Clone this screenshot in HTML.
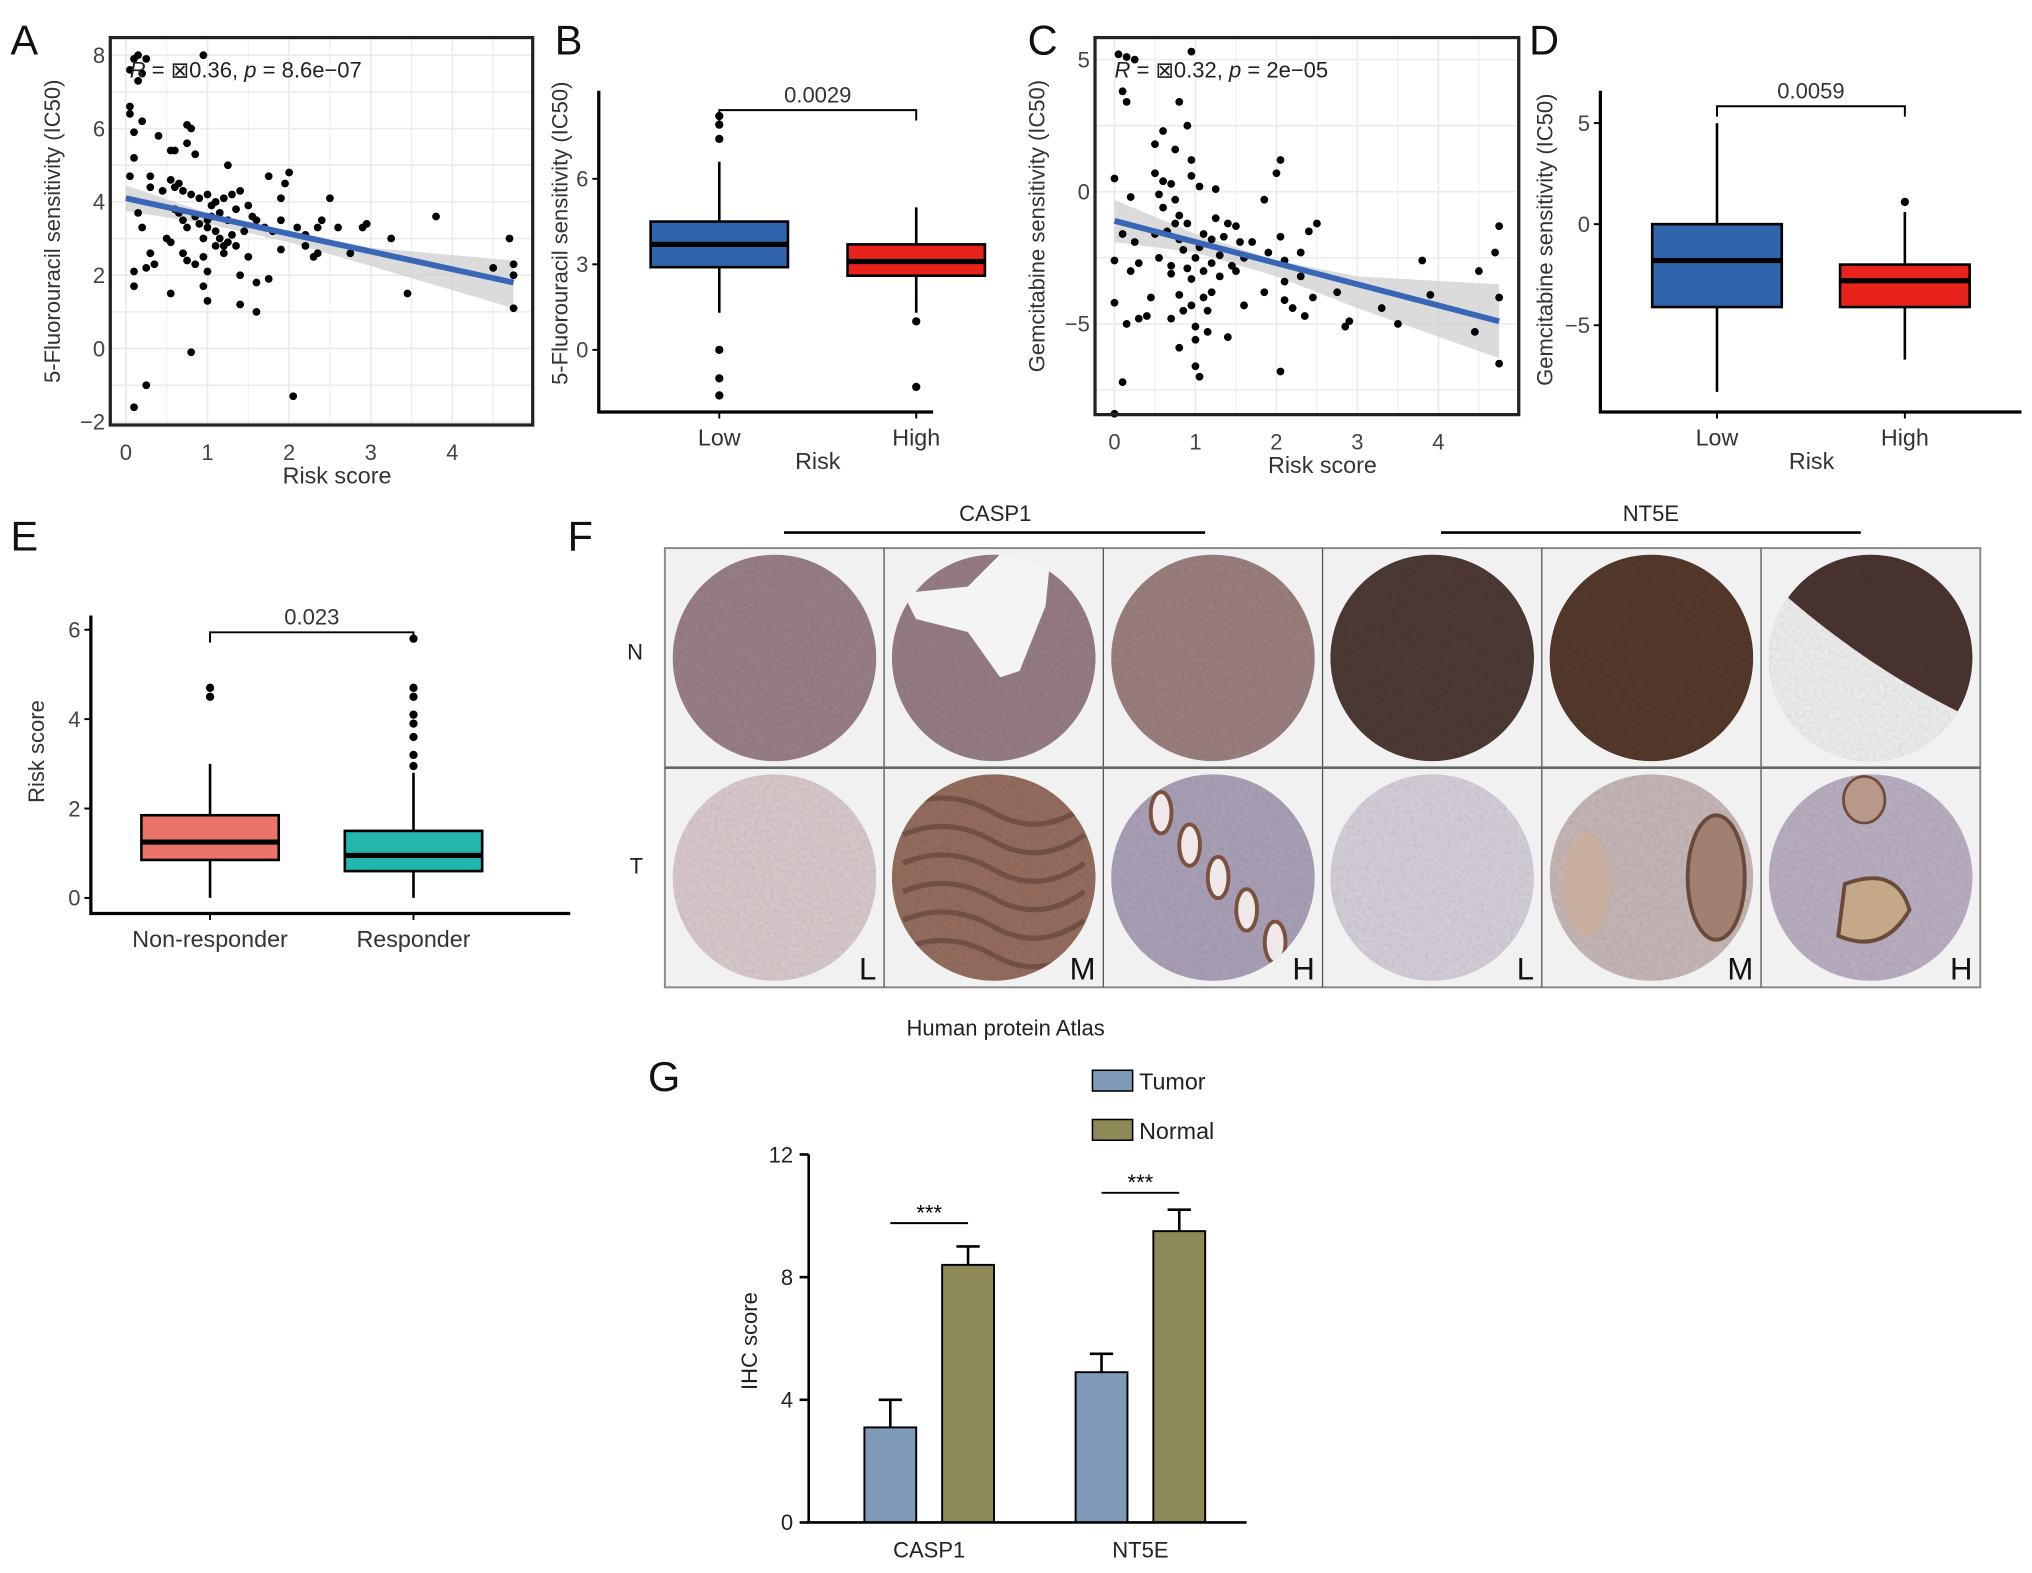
<!DOCTYPE html>
<html><head><meta charset="utf-8">
<style>
html,body{margin:0;padding:0;background:#fff;}
svg{display:block;font-family:"Liberation Sans",Arial,sans-serif;}
</style></head>
<body>
<svg id="fig" width="2032" height="1573" viewBox="0 0 1568 1214" xmlns="http://www.w3.org/2000/svg">
<defs>
<filter id="tex" x="0" y="0" width="1" height="1">
<feTurbulence type="fractalNoise" baseFrequency="0.35" numOctaves="2" seed="3" result="n"/>
<feColorMatrix type="saturate" values="0" in="n" result="g"/>
<feComponentTransfer in="g" result="g2"><feFuncA type="linear" slope="0.35"/></feComponentTransfer>
<feComposite in="g2" in2="SourceGraphic" operator="in" result="m"/>
<feBlend in="SourceGraphic" in2="m" mode="multiply"/>
</filter>
</defs>
<g id="root"></g>
</svg>
<script>
// ---------- DATA ----------
const scatterA = [[0.05,7.6],[0.1,7.9],[0.15,8.0],[0.2,7.5],[0.15,7.3],[0.25,7.9],[0.95,8.0],[0.05,6.6],[0.05,6.4],[0.2,6.2],[0.1,5.9],[0.4,5.8],[0.75,6.1],[0.8,6.0],[0.75,5.6],[0.1,5.2],[0.55,5.4],[0.6,5.4],[0.85,5.3],[1.25,5.0],[0.05,4.7],[0.3,4.7],[0.55,4.6],[0.6,4.4],[0.7,4.3],[0.8,4.2],[0.9,4.1],[1.0,4.2],[1.1,4.0],[1.2,4.1],[1.3,4.2],[1.4,4.3],[1.5,3.9],[1.75,4.7],[2.0,4.8],[1.95,4.5],[1.9,4.1],[2.5,4.1],[3.8,3.6],[0.15,3.7],[0.2,3.3],[0.5,3.0],[0.6,3.8],[0.7,3.5],[0.75,3.3],[0.85,3.6],[0.9,3.4],[1.0,3.3],[1.05,3.6],[1.1,3.2],[1.15,3.0],[1.2,2.8],[1.25,3.5],[1.3,3.1],[1.45,3.2],[1.6,3.5],[1.7,3.3],[1.8,3.2],[1.9,3.5],[2.1,3.3],[2.2,3.1],[2.35,3.3],[2.4,3.5],[2.6,3.3],[2.9,3.3],[2.95,3.4],[3.25,3.0],[0.3,2.6],[0.35,2.3],[0.25,2.2],[0.1,2.1],[0.55,2.9],[0.7,2.6],[0.75,2.4],[0.85,2.3],[0.95,2.5],[1.0,2.1],[1.1,2.8],[1.2,2.6],[1.4,2.0],[1.5,2.5],[1.6,1.8],[1.75,1.9],[1.9,2.7],[2.2,2.8],[2.3,2.5],[2.35,2.6],[2.75,2.6],[0.1,1.7],[0.55,1.5],[0.95,1.7],[1.0,1.3],[1.4,1.2],[1.6,1.0],[3.45,1.5],[4.5,2.2],[4.7,3.0],[4.75,2.3],[4.75,2.0],[4.75,1.1],[0.8,-0.1],[0.25,-1.0],[0.1,-1.6],[2.05,-1.3],[0.3,4.4],[0.65,4.5],[0.45,4.3],[1.05,3.9],[1.35,3.8],[1.15,3.7],[0.95,3.0],[0.65,3.7],[1.55,3.6],[1.25,2.9],[1.35,2.8],[1.0,3.5]];
const fitA = [[0,4.1],[4.75,1.8]];
const bandA = [[0,4.45,3.75],[1,3.7,3.4],[2,3.2,2.9],[3,2.75,2.25],[4.75,2.4,1.1]];
const ticksAx = [0,1,2,3,4];
const ticksAy = [-2,0,2,4,6,8];

const scatterC = [[0.05,5.2],[0.15,5.1],[0.25,5.0],[0.95,5.3],[0.1,3.8],[0.15,3.4],[0.8,3.4],[0.6,2.3],[0.9,2.5],[0.5,1.8],[0.75,1.6],[0.95,1.2],[0.5,0.7],[0.6,0.4],[0.7,0.3],[0.95,0.6],[1.05,0.2],[1.25,0.1],[0.0,0.5],[0.2,-0.2],[0.55,-0.1],[0.75,-0.3],[1.85,-0.3],[2.0,0.7],[2.05,1.2],[0.6,-0.6],[0.8,-0.9],[0.9,-1.2],[1.25,-1.0],[1.4,-1.2],[2.5,-1.2],[0.1,-1.6],[0.25,-1.9],[0.5,-1.6],[0.65,-1.5],[0.8,-1.8],[1.1,-1.6],[1.2,-1.8],[1.35,-1.7],[1.55,-1.9],[1.7,-1.9],[2.05,-1.7],[2.4,-1.5],[0.0,-2.6],[0.3,-2.7],[0.55,-2.5],[0.7,-2.8],[0.9,-2.9],[1.0,-2.5],[1.2,-2.7],[1.3,-2.4],[1.45,-2.8],[1.9,-2.3],[2.1,-2.6],[2.3,-2.3],[0.2,-3.0],[0.7,-3.1],[0.95,-3.3],[1.1,-3.0],[1.3,-3.2],[1.5,-3.0],[2.1,-3.4],[2.3,-3.2],[0.0,-4.2],[0.45,-4.0],[0.8,-3.9],[0.95,-4.3],[1.1,-4.0],[1.2,-3.8],[1.6,-4.3],[1.85,-3.8],[2.1,-4.1],[2.2,-4.4],[2.45,-4.0],[2.75,-3.8],[3.3,-4.4],[3.9,-3.9],[3.8,-2.6],[4.5,-3.0],[4.7,-2.3],[4.75,-1.3],[4.75,-4.0],[0.15,-5.0],[0.3,-4.8],[0.4,-4.7],[0.7,-4.8],[0.85,-4.5],[1.0,-5.1],[1.15,-4.5],[2.35,-4.7],[2.9,-4.9],[2.85,-5.1],[3.5,-5.0],[4.45,-5.3],[0.8,-5.9],[1.0,-5.6],[1.15,-5.3],[1.4,-5.5],[1.0,-6.6],[1.05,-7.0],[2.05,-6.8],[4.75,-6.5],[0.1,-7.2],[0.0,-8.4],[0.75,-1.2],[1.05,-2.1],[0.85,-2.2],[1.5,-1.3],[1.6,-2.5]];
const fitC = [[0,-1.1],[4.75,-4.9]];
const bandC = [[0,-0.3,-1.9],[1,-1.6,-2.3],[2,-2.6,-3.2],[3,-3.2,-4.4],[4.75,-3.5,-6.3]];
const ticksCx = [0,1,2,3,4];
const ticksCy = [-5,0,5];

const boxB = [{lo:1.3,q1:2.9,med:3.7,q3:4.5,hi:6.6,out:[8.2,7.9,7.4,0,-1,-1.6]},{lo:1.3,q1:2.6,med:3.1,q3:3.7,hi:5.0,out:[1.0,-1.3]}];
const catsB = ["Low","High"];
const ticksBy = [0,3,6];
const pB = "0.0029";

const boxD = [{lo:-8.3,q1:-4.1,med:-1.8,q3:0,hi:5.0,out:[]},{lo:-6.7,q1:-4.1,med:-2.8,q3:-2.0,hi:0.6,out:[1.1]}];
const catsD = ["Low","High"];
const ticksDy = [-5,0,5];
const pD = "0.0059";

const boxE = [{lo:0,q1:0.85,med:1.25,q3:1.85,hi:3.0,out:[4.5,4.7]},{lo:0,q1:0.6,med:0.95,q3:1.5,hi:2.8,out:[2.95,3.2,3.6,3.9,4.1,4.5,4.7,5.8]}];
const catsE = ["Non-responder","Responder"];
const ticksEy = [0,2,4,6];
const pE = "0.023";

const catsG = ["CASP1","NT5E"];
const tumorG = [3.1,4.9];
const tumorErrG = [0.9,0.6];
const normalG = [8.4,9.5];
const normalErrG = [0.6,0.7];
const ticksGy = [0,4,8,12];

// ---------- HELPERS ----------
const NS = "http://www.w3.org/2000/svg";
const root = document.getElementById('root');
const defs = document.querySelector('defs');
function el(tag, attrs, parent, text){
  const e = document.createElementNS(NS, tag);
  for (const k in attrs) e.setAttribute(k, attrs[k]);
  if (text !== undefined) e.textContent = text;
  (parent || root).appendChild(e);
  return e;
}
function lin(d0,d1,r0,r1){ return v => r0 + (v-d0)*(r1-r0)/(d1-d0); }

[["A",8,42],["B",428,42],["C",793,42],["D",1180,42],["E",8,425],["F",438,425],["G",500,842]].forEach(([t,x,y])=>{
  const e = el('text',{x:x,y:y,'font-size':32,fill:'#111'},root,t);
  
  
});

// ---------- SCATTER ----------
function scatter(cfg){
  const g = el('g',{});
  
  
  const X = lin(0,1,cfg.x0,cfg.x0+cfg.xs), Y = lin(0,1,cfg.y0,cfg.y0-cfg.ys);
  el('rect',{x:cfg.box[0],y:cfg.box[1],width:cfg.box[2]-cfg.box[0],height:cfg.box[3]-cfg.box[1],fill:'#fff'},g);
  for(let v=cfg.gx[0]; v<=cfg.gx[1]+1e-9; v+=0.5){ const x=X(v); if(x>cfg.box[0]&&x<cfg.box[2]) el('line',{x1:x,x2:x,y1:cfg.box[1],y2:cfg.box[3],stroke:'#ebebeb','stroke-width':v%1===0?1.3:0.7},g); }
  for(let v=cfg.gy[0]; v<=cfg.gy[1]+1e-9; v+=cfg.gstep/2){ const y=Y(v); if(y>cfg.box[1]&&y<cfg.box[3]) el('line',{x1:cfg.box[0],x2:cfg.box[2],y1:y,y2:y,stroke:'#ebebeb','stroke-width':1.2},g); }
  let top = cfg.band.map(b=>X(b[0])+','+Y(b[1])).join(' ');
  let bot = cfg.band.slice().reverse().map(b=>X(b[0])+','+Y(b[2])).join(' ');
  const band = el('polygon',{points:top+' '+bot,fill:'#cfcfcf','fill-opacity':0.75},g);
  
  
  cfg.pts.forEach(p=>{
    const c = el('circle',{cx:X(p[0]),cy:Y(p[1]),r:3,fill:'#000'},g);
    
    
  });
  const fl = el('line',{x1:X(cfg.fit[0][0]),y1:Y(cfg.fit[0][1]),x2:X(cfg.fit[1][0]),y2:Y(cfg.fit[1][1]),stroke:'#3a66b8','stroke-width':4.5},g);
  
  
  el('rect',{x:cfg.box[0],y:cfg.box[1],width:cfg.box[2]-cfg.box[0],height:cfg.box[3]-cfg.box[1],fill:'none',stroke:'#222','stroke-width':2.5},g);
  cfg.tx.forEach(v=>{
    const t = el('text',{x:X(v),y:cfg.box[3]+27,'font-size':17,'text-anchor':'middle',fill:'#444'},g,String(v));
    
    
  });
  cfg.ty.forEach(v=>{
    const t = el('text',{x:cfg.box[0]-4,y:Y(v)+6,'font-size':17,'text-anchor':'end',fill:'#444'},g,v<0?'\u2212'+(-v):String(v));
    
    
  });
  const xt = el('text',{x:(cfg.box[0]+cfg.box[2])/2+12,y:cfg.box[3]+45,'font-size':18,'text-anchor':'middle',fill:'#333'},g,'Risk score');
  
  
  const yt = el('text',{x:0,y:0,'font-size':17,'text-anchor':'middle',fill:'#333',transform:`translate(${cfg.ytx},${(cfg.box[1]+cfg.box[3])/2}) rotate(-90)`},g,cfg.ytitle);
  
  
  const st = el('text',{x:cfg.box[0]+15,y:cfg.box[1]+31,'font-size':17,fill:'#222'},g);
  st.innerHTML = '<tspan font-style="italic">R</tspan> = \u22A0'+cfg.r+', <tspan font-style="italic">p</tspan> = '+cfg.p;
  
  
}
scatter({name:'panel-a-scatter',box:[85,29,411,328],x0:97,xs:63,y0:269,ys:28.3,gx:[-0.5,5],gy:[-2,8],gstep:2,
  pts:scatterA,fit:fitA,band:bandA,tx:ticksAx,ty:ticksAy,ytx:46,ytitle:'5-Fluorouracil sensitivity (IC50)',r:'0.36',p:'8.6e\u221207'});
scatter({name:'panel-c-scatter',box:[845,29,1172,320],x0:860,xs:62.5,y0:148,ys:20.4,gx:[-0.5,5],gy:[-10,5],gstep:5,
  pts:scatterC,fit:fitC,band:bandC,tx:ticksCx,ty:ticksCy,ytx:806,ytitle:'Gemcitabine sensitivity (IC50)',r:'0.32',p:'2e\u221205'});

// ---------- BOXPLOTS ----------
function boxplot(cfg){
  const g = el('g',{});
  
  
  const Y = lin(0,1,cfg.y0,cfg.y0-cfg.ys);
  cfg.boxes.forEach((b,i)=>{
    const cx = cfg.cx[i], w = cfg.w;
    const bg = el('g',{},g);
    
    
    el('line',{x1:cx,x2:cx,y1:Y(b.lo),y2:Y(b.hi),stroke:'#000','stroke-width':2},bg);
    el('rect',{x:cx-w/2,y:Y(b.q3),width:w,height:Y(b.q1)-Y(b.q3),fill:cfg.colors[i],stroke:'#000','stroke-width':2},bg);
    el('line',{x1:cx-w/2,x2:cx+w/2,y1:Y(b.med),y2:Y(b.med),stroke:'#000','stroke-width':4},bg);
    b.out.forEach(o=>{ const c=el('circle',{cx:cx,cy:Y(o),r:3.2,fill:'#000'},bg);   });
    const t = el('text',{x:cx,y:cfg.axisY+26,'font-size':18,'text-anchor':'middle',fill:'#333'},g,cfg.cats[i]);
    
    
    el('line',{x1:cx,x2:cx,y1:cfg.axisY,y2:cfg.axisY+5,stroke:'#000','stroke-width':1.5},g);
  });
  const ax = el('path',{d:`M${cfg.axisX},${cfg.axisTop} V${cfg.axisY} H${cfg.axisRight}`,fill:'none',stroke:'#000','stroke-width':2.5},g);
  
  
  cfg.ticks.forEach(v=>{
    el('line',{x1:cfg.axisX-5,x2:cfg.axisX,y1:Y(v),y2:Y(v),stroke:'#000','stroke-width':1.5},g);
    const t = el('text',{x:cfg.axisX-8,y:Y(v)+6,'font-size':17,'text-anchor':'end',fill:'#444'},g,v<0?'\u2212'+(-v):String(v));
    
    
  });
  const br = el('path',{d:`M${cfg.cx[0]},${cfg.brY+8} V${cfg.brY} H${cfg.cx[1]} V${cfg.brY+8}`,fill:'none',stroke:'#000','stroke-width':1.5},g);
  
  
  const pt = el('text',{x:(cfg.cx[0]+cfg.cx[1])/2,y:cfg.brY-6,'font-size':17,'text-anchor':'middle',fill:'#333'},g,cfg.p);
  
  
  if(cfg.xtitle){ const xt=el('text',{x:cfg.xtx,y:cfg.axisY+44,'font-size':18,'text-anchor':'middle',fill:'#333'},g,cfg.xtitle);   }
  const yt = el('text',{x:0,y:0,'font-size':17,'text-anchor':'middle',fill:'#333',transform:`translate(${cfg.ytx},${cfg.yty}) rotate(-90)`},g,cfg.ytitle);
  
  
}
boxplot({name:'panel-b-boxplot',boxes:boxB,cats:catsB,cx:[555,707],w:106,colors:['#2f65ad','#e8231c'],y0:270,ys:22,axisX:462,axisTop:70,axisY:318,axisRight:720,ticks:ticksBy,brY:85,p:pB,xtitle:'Risk',xtx:631,ytx:438,yty:180,ytitle:'5-Fluorouracil sensitivity (IC50)'});
boxplot({name:'panel-d-boxplot',boxes:boxD,cats:catsD,cx:[1325,1470],w:100,colors:['#2f65ad','#e8231c'],y0:173,ys:15.6,axisX:1235,axisTop:70,axisY:318,axisRight:1560,ticks:ticksDy,brY:82,p:pD,xtitle:'Risk',xtx:1398,ytx:1198,yty:185,ytitle:'Gemcitabine sensitivity (IC50)'});
boxplot({name:'panel-e-boxplot',boxes:boxE,cats:catsE,cx:[162,319],w:106,colors:['#ec7368','#22b6ae'],y0:693,ys:34.5,axisX:70,axisTop:475,axisY:705,axisRight:440,ticks:ticksEy,brY:488,p:pE,xtitle:'',ytx:34,yty:580,ytitle:'Risk score'});

// ---------- PANEL F ----------
(function(){
  const g = el('g',{});
  
  
  const x0=513, y0=423, cw=169.2, rh=169.5;
  const fillsN = ['#9a8088','#977e84','#9c8080','#4e3a34','#55392c','#4a3430'];
  const fillsT = ['#dacbcd','#956e5e','#aca2b8','#d6d0da','#c8b8b8','#bbb0c2'];
  const letters = ['L','M','H','L','M','H'];
  el('rect',{x:x0,y:y0,width:cw*6,height:rh*2,fill:'#f1f1f1',stroke:'#888','stroke-width':1.5},g);
  for(let r=0;r<2;r++) for(let c=0;c<6;c++){
    const cx = x0+cw*c+cw/2, cy=y0+rh*r+rh/2;
    const rx=cw/2-6, ry=rh/2-5;
    const cid='clip'+r+'_'+c;
    const cp = el('clipPath',{id:cid},defs);
    el('ellipse',{cx:cx,cy:cy,rx:rx,ry:ry},cp);
    const cell = el('g',{'clip-path':`url(#${cid})`},g);
    
    
    el('ellipse',{cx:cx,cy:cy,rx:rx,ry:ry,fill:r?fillsT[c]:fillsN[c],filter:'url(#tex)'},cell);
    if(r===0&&c===1) el('path',{d:`M${cx+15},${cy-90} L${cx+45},${cy-90} L${cx+40},${cy-40} L${cx+20},${cy+10} L${cx+5},${cy+15} L${cx-20},${cy-20} L${cx-60},${cy-30} L${cx-70},${cy-50} L${cx-20},${cy-55} Z`,fill:'#f4f4f4'},cell);
    if(r===0&&c===5) el('path',{d:`M${cx-90},${cy-70} Q${cx-10},${cy+5} ${cx+75},${cy+45} L${cx+90},${cy+90} L${cx-90},${cy+90} Z`,fill:'#f0efef',filter:'url(#tex)'},cell);
    if(r===1&&c===1){ for(let k=0;k<6;k++) el('path',{d:`M${cx-70},${cy-55+k*22} q35,-15 70,5 t70,-5`,fill:'none',stroke:'#5e4034','stroke-width':4,opacity:0.6},cell); }
    if(r===1&&c===2){ for(let k=0;k<5;k++) el('ellipse',{cx:cx-40+k*22,cy:cy-50+k*25,rx:8,ry:16,fill:'#f0e8e8',stroke:'#7a5040','stroke-width':3},cell); }
    if(r===1&&c===4){ el('ellipse',{cx:cx+50,cy:cy,rx:22,ry:48,fill:'#a08070',stroke:'#6a4a3a','stroke-width':3},cell); el('ellipse',{cx:cx-50,cy:cy+5,rx:18,ry:40,fill:'#c8b0a0'},cell); }
    if(r===1&&c===5){ el('path',{d:`M${cx-20},${cy+5} Q${cx+20},${cy-10} ${cx+30},${cy+25} Q${cx+10},${cy+60} ${cx-25},${cy+45} Z`,fill:'#c4a888',stroke:'#6a4a3a','stroke-width':3},cell); el('ellipse',{cx:cx-5,cy:cy-60,rx:16,ry:18,fill:'#b89888',stroke:'#6a4a3a','stroke-width':2},cell); }
    if(r===1){ const t=el('text',{x:x0+cw*(c+1)-6,y:y0+rh*2-6,'font-size':24,'text-anchor':'end',fill:'#111'},g,letters[c]);   }
  }
  for(let c=1;c<6;c++) el('line',{x1:x0+cw*c,x2:x0+cw*c,y1:y0,y2:y0+rh*2,stroke:'#555','stroke-width':1},g);
  el('line',{x1:x0,x2:x0+cw*6,y1:y0+rh,y2:y0+rh,stroke:'#666','stroke-width':2},g);
  const lines=[['CASP1',605,930,768],['NT5E',1112,1436,1274]];
  lines.forEach(([t,a,b,m])=>{
    el('line',{x1:a,x2:b,y1:411,y2:411,stroke:'#000','stroke-width':2},g);
    const tx=el('text',{x:m,y:402,'font-size':17,'text-anchor':'middle',fill:'#222'},g,t);
    
    
  });
  const n=el('text',{x:490,y:509,'font-size':17,'text-anchor':'middle',fill:'#222'},g,'N');  
  const t=el('text',{x:491,y:674,'font-size':17,'text-anchor':'middle',fill:'#222'},g,'T');  
  const h=el('text',{x:776,y:799,'font-size':17,'text-anchor':'middle',fill:'#222'},g,'Human protein Atlas');  
})();

// ---------- PANEL G ----------
(function(){
  const g = el('g',{});
  
  
  const Y = lin(0,12,1175,891);
  const centers = [717,880], bw=40, off=30;
  const colT='#7f9bb8', colN='#8d8a57';
  function bar(cx,v,e,col,name){
    const b = el('rect',{x:cx-bw/2,y:Y(v),width:bw,height:Y(0)-Y(v),fill:col,stroke:'#000','stroke-width':1.5},g);
    
    
    el('line',{x1:cx,x2:cx,y1:Y(v),y2:Y(v+e),stroke:'#000','stroke-width':2},g);
    el('line',{x1:cx-9,x2:cx+9,y1:Y(v+e),y2:Y(v+e),stroke:'#000','stroke-width':2},g);
  }
  catsG.forEach((c,i)=>{
    bar(centers[i]-off,tumorG[i],tumorErrG[i],colT,'bar-tumor-'+c.toLowerCase());
    bar(centers[i]+off,normalG[i],normalErrG[i],colN,'bar-normal-'+c.toLowerCase());
    const top = Math.max(tumorG[i]+tumorErrG[i],normalG[i]+normalErrG[i]);
    const sy = Y(top)+ (i===0?12:17) - 30;
    el('line',{x1:centers[i]-off,x2:centers[i]+off,y1:sy,y2:sy,stroke:'#000','stroke-width':1.5},g);
    const st = el('text',{x:centers[i],y:sy-2,'font-size':17,'text-anchor':'middle',fill:'#000'},g,'***');
    
    
    const t = el('text',{x:centers[i],y:1202,'font-size':17,'text-anchor':'middle',fill:'#222'},g,c);
    
    
  });
  const ax = el('path',{d:'M624,891 V1175 H962',fill:'none',stroke:'#000','stroke-width':2},g);
  
  
  ticksGy.forEach(v=>{
    el('line',{x1:617,x2:624,y1:Y(v),y2:Y(v),stroke:'#000','stroke-width':2},g);
    const t = el('text',{x:612,y:Y(v)+6,'font-size':17,'text-anchor':'end',fill:'#222'},g,String(v));
    
    
  });
  const yt = el('text',{x:0,y:0,'font-size':17,'text-anchor':'middle',fill:'#222',transform:'translate(584,1035) rotate(-90)'},g,'IHC score');
  
  
  [['Tumor',colT,826],['Normal',colN,864]].forEach(([n,c,y])=>{
    const lg = el('g',{},g);
    
    
    el('rect',{x:843,y:y,width:31,height:16,fill:c,stroke:'#000','stroke-width':1.2},lg);
    el('text',{x:879,y:y+15,'font-size':18,fill:'#222'},lg,n);
  });
})();
</script>
</body></html>
